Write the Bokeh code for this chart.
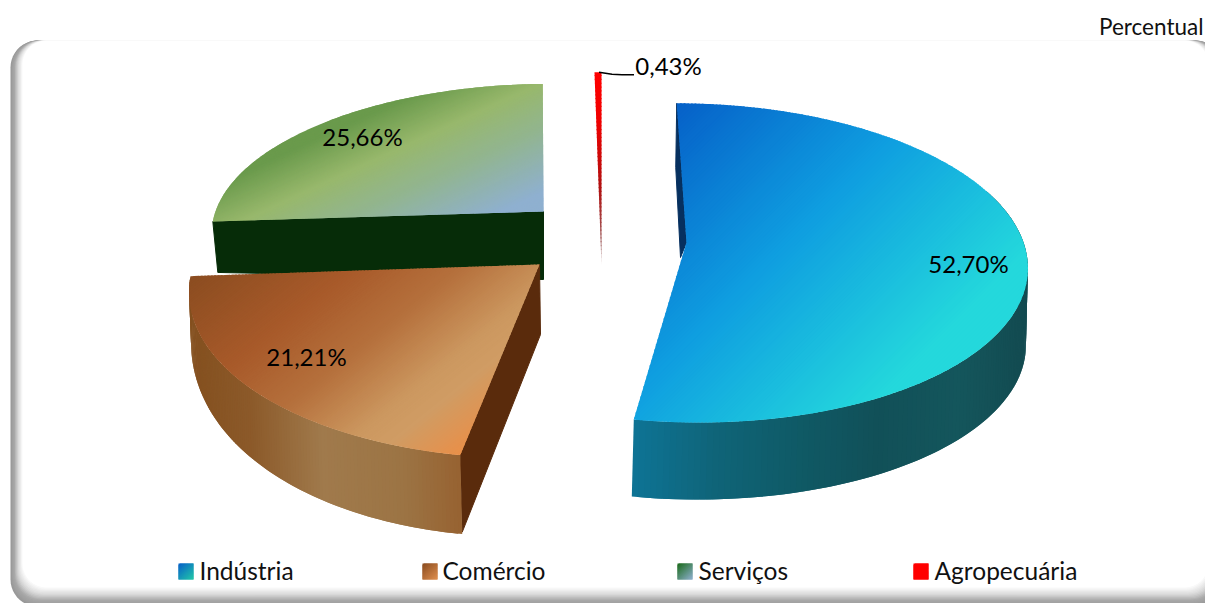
from bokeh.plotting import figure
from bokeh.models import Range1d
from bokeh.core.properties import value
from bokeh.embed import file_html
from bokeh.resources import INLINE
import numpy as np

# ---- data
categories = ["Indústria", "Comércio", "Serviços", "Agropecuária"]
shares = [52.70, 21.21, 25.66, 0.43]
share_labels = ["52,70%", "21,21%", "25,66%", "0,43%"]
unit_label = "Percentual"

# ---- page and projection layout
W, H = 1205, 603
PERSP = 0.128
GEOM = {  # cx, cy, rx, ry, shear, p
    "Indústria": (686, 242, 337, 157, -11, PERSP),
    "Comércio": (539, 264, 346, 169, 11, PERSP),
    "Serviços": (543, 211, 328, 144, 8, PERSP),
    "Agropecuária": (601, 265, 292, 218, 0, PERSP),
}
TOP_GRAD = {
    "Indústria": ((675, 103), (925, 353), [(0, "#0660c8"), (.5, "#0f9ee0"), (1, "#24d8dc")]),
    "Comércio": ((190, 270), (398, 530), [(0, "#8a4c20"), (.3, "#a85a2a"), (.5, "#b5703c"), (.7, "#cc9860"), (.78, "#d09c64"), (.93, "#e8904a")]),
    "Serviços": ((400, 100), (460, 230), [(0, "#6a9a4c"), (.3, "#98b86c"), (.6, "#92b590"), (1, "#8fb0d0")]),
}
WALL_STOPS = {
    "Indústria": [(635, "#0e7496"), (720, "#0f6478"), (800, "#0f5a66"), (880, "#115058"), (960, "#14565c"), (1030, "#134a50")],
    "Comércio": [(190, "#84501f"), (250, "#8c5a2a"), (320, "#a07a4c"), (400, "#9c7444"), (465, "#96602f")],
}
LEGEND = [("Indústria", 178, 199, ("#0760c8", "#22c8a8")),
          ("Comércio", 422, 442, ("#8a4c20", "#e09050")),
          ("Serviços", 677, 698, ("#1a6a1a", "#8fb0d0")),
          ("Agropecuária", 913, 934, ("#ff0000", "#ff0000"))]


def rgb(h):
    return np.array([int(h[i:i + 2], 16) for i in (1, 3, 5)], float)


def ramp(stops, t):
    xs = [s[0] for s in stops]
    cs = np.array([rgb(s[1]) for s in stops])
    c = [np.interp(t, xs, cs[:, i]) for i in range(3)]
    return "#%02x%02x%02x" % tuple(int(round(v)) for v in c)


def pt(name, deg, r=1.0, dy=0.0, dx=0.0):
    cx, cy, rx, ry, k, per = GEOM[name]
    a = np.radians(deg)
    u, v = r * np.sin(a), r * np.cos(a)
    d = 1 + per * v
    return cx + (rx * u + k * v) / d + dx, cy - ry * v / d + dy


def add(xs, ys, cs, poly, color):
    xs.append([float(q[0]) for q in poly])
    ys.append([float(q[1]) for q in poly])
    cs.append(color)


def clip(poly, fn, lo, hi):
    """Clip a polygon to lo <= fn(x, y) <= hi."""
    for sign, lim in ((1, lo), (-1, hi)):
        out = []
        for i in range(len(poly)):
            a, b = poly[i], poly[(i + 1) % len(poly)]
            fa, fb = sign * (fn(*a) - lim), sign * (fn(*b) - lim)
            if fa >= 0:
                out.append(a)
            if fa * fb < 0:
                s = fa / (fa - fb)
                out.append((a[0] + s * (b[0] - a[0]), a[1] + s * (b[1] - a[1])))
        poly = out
        if not poly:
            return []
    return poly


def band_cells(poly, g, n=150):
    (x0, y0), (x1, y1), stops = g
    dx, dy = x1 - x0, y1 - y0
    L = dx * dx + dy * dy
    fn = lambda x, y: ((x - x0) * dx + (y - y0) * dy) / L
    vals = [fn(*q) for q in poly]
    lo, hi = min(vals), max(vals)
    edges_ = np.linspace(lo, hi, n + 1)
    over = 1.2 / np.sqrt(L)
    xs, ys, cs = [], [], []
    for i in range(n):
        piece = clip(poly, fn, edges_[i], hi if i == n - 1 else edges_[i + 1] + over)
        if len(piece) >= 3:
            add(xs, ys, cs, piece, ramp(stops, (edges_[i] + edges_[i + 1]) / 2))
    return xs, ys, cs


def top_cells(name, a0, a1, n=150):
    poly = [pt(name, 0, 0)] + [pt(name, t) for t in np.linspace(a0, a1, 120)]
    return band_cells(poly, TOP_GRAD[name], n)


def wall_cells(name, a0, a1, depth_fn, dx, n=130):
    xs, ys, cs = [], [], []
    ths = np.linspace(a0, a1, n + 2)
    # strips overlap the next one, so no seams show
    order = range(n - 1, -1, -1) if name == "Indústria" else range(n)
    for i in order:
        a, b = pt(name, ths[i]), pt(name, ths[i + 2])
        c = pt(name, ths[i + 2], 1, depth_fn(ths[i + 2]), dx)
        d = pt(name, ths[i], 1, depth_fn(ths[i]), dx)
        add(xs, ys, cs, [a, b, c, d], ramp(WALL_STOPS[name], (a[0] + b[0]) / 2))
    return xs, ys, cs


def rrect(l, t, r, b, rad):
    a = np.radians(np.linspace(0, 90, 12))
    px, py = [], []
    for cx, cy, sx, sy, rev in [(r - rad, t + rad, 1, -1, False), (l + rad, t + rad, -1, -1, True),
                                (l + rad, b - rad, -1, 1, False), (r - rad, b - rad, 1, 1, True)]:
        aa = a[::-1] if rev else a
        px += list(cx + sx * rad * np.cos(aa))
        py += list(cy + sy * rad * np.sin(aa))
    return px, py


p = figure(width=W, height=H, x_range=Range1d(0, W), y_range=Range1d(H, 0),
           x_axis_type=None, y_axis_type=None, toolbar_location=None, output_backend="svg",
           min_border=0, outline_line_color=None, background_fill_color="white",
           border_fill_color="white")
p.grid.visible = False

# ---- shadowed rounded frame: all layers share the top edge, so the band tapers off there
steps = 16
fx, fy, fc = [], [], []
for i in range(steps + 1):
    f = i / steps
    shade = ramp([(0, "#989898"), (.3, "#a8a8a8"), (.6, "#d8d8d8"), (1, "#ffffff")], f)
    px, py = rrect(10 + 12 * f, 40, 1222 - 14 * f, 606 - 19 * f, 27 - 3 * f)
    fx.append(list(map(float, px))); fy.append(list(map(float, py))); fc.append(shade)
p.patches(fx, fy, fill_color=fc, line_color=None)


def draw(cells):
    p.patches(cells[0], cells[1], fill_color=cells[2], line_color=None)


# ---- slice angles from the shares (clockwise from the top)
edges = np.concatenate([[0], np.cumsum(shares)]) * 3.6
ang = {c: (edges[i], edges[i + 1]) for i, c in enumerate(categories)}

# Serviços: radial face then top
name = "Serviços"
a0, a1 = ang[name]
A, B = pt(name, 0, 0), pt(name, a0)
p.patch([A[0], B[0], B[0] + 5, A[0]], [A[1], B[1], B[1] + 51, A[1] + 68], color="#062c08")
draw(top_cells(name, a0, a1))

# Comércio: radial face, rim wall (its depth eases off towards the left), top
name = "Comércio"
a0, a1 = ang[name]
A, B = pt(name, 0, 0), pt(name, a0)
p.patch([A[0], B[0], B[0] + 2, A[0] + 1], [A[1], B[1], B[1] + 77, A[1] + 70], color="#5a2b0c")
draw(wall_cells(name, a0, a1, lambda t: 45 + 34 * (1 - (1 - (a1 - t) / (a1 - a0)) ** 2), 2))
draw(top_cells(name, a0, a1))

# Agropecuária: thin sliver, fading towards the apex
name = "Agropecuária"
a0, a1 = ang[name]
sliver = [(0, "#e8e0e0"), (.12, "#a06060"), (.4, "#b01010"), (.75, "#f00000"), (1, "#ff0000")]
sl_poly = [pt(name, 0, 0), pt(name, a0), pt(name, a1)]
sx, sy, sc = band_cells(sl_poly, (pt(name, 0, 0), pt(name, 0), sliver), 50)
p.patches(sx, sy, fill_color=sc, line_color=None)

# Indústria: back radial face, rim wall, top
name = "Indústria"
a0, a1 = ang[name]
R, A = pt(name, 0), pt(name, 0, 0)
p.patch([R[0], R[0] - 1, A[0] - 6, A[0]], [R[1], R[1] + 64, A[1] + 15, A[1]], color="#06305f")
draw(wall_cells(name, 70, a1, lambda t: 77.0, -2))
draw(top_cells(name, a0, a1))

# ---- leader line for the smallest slice
name = "Agropecuária"
L = pt(name, (ang[name][0] + ang[name][1]) / 2)
p.line([L[0] + 1, L[0] + 14, L[0] + 24, L[0] + 36], [L[1], L[1] + 2, L[1] + 2.5, L[1] + 2.5],
       line_color="black", line_width=1.5)

# ---- labels
F = value("Lato")
lab_x = [968, 306, 362, 668]
lab_y = [263, 356, 136, 65]
p.text(lab_x, lab_y, text=share_labels, text_font=F, text_font_size="24px", text_color="#000000",
       text_align="center", text_baseline="middle")
p.text([1203], [26], text=[unit_label], text_font=F, text_font_size="22.5px", text_color="#111111",
       text_align="right", text_baseline="middle")

# ---- legend
for cat, sqx, tx, (c0, c1) in LEGEND:
    sq = [(sqx, 563), (sqx + 15, 563), (sqx + 15, 579), (sqx, 579)]
    gx, gy, gc = band_cells(sq, ((sqx, 563), (sqx + 15, 579), [(0, c0), (1, c1)]), 20)
    p.patches(gx, gy, fill_color=gc, line_color=None)
    p.text([tx], [570], text=[cat], text_font=F, text_font_size="24.5px", text_color="#111111",
           text_align="left", text_baseline="middle")

open("out.html", "w").write(file_html(p, INLINE))
